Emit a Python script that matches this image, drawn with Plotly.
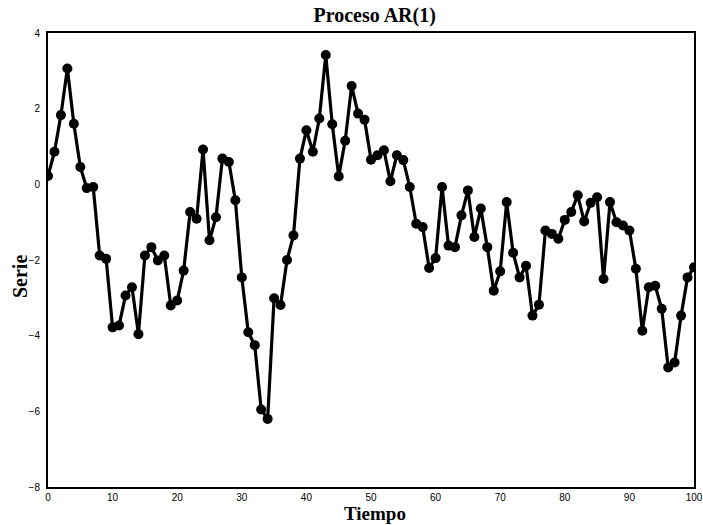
import plotly.graph_objects as go

# Simulated AR(1) series, one value per time step
tiempo = list(range(101))
serie = [
    0.22, 0.86, 1.83, 3.06, 1.60, 0.46, -0.10, -0.07, -1.88, -1.97,
    -3.78, -3.73, -2.94, -2.72, -3.96, -1.88, -1.66, -2.01, -1.88, -3.20,
    -3.07, -2.28, -0.73, -0.91, 0.92, -1.48, -0.87, 0.68, 0.59, -0.42,
    -2.46, -3.91, -4.25, -5.95, -6.20, -3.01, -3.19, -2.00, -1.35, 0.68,
    1.43, 0.86, 1.74, 3.42, 1.59, 0.21, 1.15, 2.60, 1.87, 1.71,
    0.65, 0.77, 0.90, 0.08, 0.77, 0.64, -0.07, -1.04, -1.13, -2.21,
    -1.95, -0.07, -1.62, -1.66, -0.82, -0.16, -1.39, -0.64, -1.66, -2.81,
    -2.30, -0.47, -1.81, -2.46, -2.15, -3.47, -3.18, -1.22, -1.31, -1.44,
    -0.94, -0.73, -0.29, -0.98, -0.49, -0.34, -2.50, -0.47, -1.00, -1.09,
    -1.22, -2.23, -3.87, -2.72, -2.68, -3.29, -4.84, -4.71, -3.47, -2.46,
    -2.19,
]
x_ticks = [0, 10, 20, 30, 40, 50, 60, 70, 80, 90, 100]
y_ticks = [-8, -6, -4, -2, 0, 2, 4]

fig = go.Figure()
fig.add_trace(go.Scatter(
    x=tiempo, y=serie, mode="lines+markers",
    line=dict(color="black", width=3.2),
    marker=dict(color="black", size=10),
    showlegend=False,
))

tick_font = dict(family="Liberation Sans, Arial, sans-serif", size=10, color="black")
label_font = dict(family="Liberation Serif, Times New Roman, serif", size=19, color="black")

fig.update_layout(
    width=703, height=525,
    margin=dict(l=48, r=9, t=33, b=38),
    paper_bgcolor="white", plot_bgcolor="white",
    title=dict(
        text="<b>Proceso AR(1)</b>", x=0.533, xanchor="center", y=0.972, yanchor="middle",
        font=dict(family="Liberation Serif, Times New Roman, serif", size=20, color="black"),
    ),
    xaxis=dict(
        range=[0, 100], tickvals=x_ticks, ticks="", showgrid=False, zeroline=False,
        showline=True, linecolor="black", linewidth=2, mirror=True,
        tickfont=tick_font, ticklabelstandoff=0, ticklabeloverflow="allow",
        automargin=False,
    ),
    yaxis=dict(
        range=[-8, 4], tickvals=y_ticks, ticks="", showgrid=False, zeroline=False,
        showline=True, linecolor="black", linewidth=2, mirror=True,
        tickfont=tick_font, ticklabelstandoff=4, automargin=False,
    ),
    annotations=[
        # axis labels
        dict(text="<b>Tiempo</b>", xref="paper", yref="paper", x=0.506, y=-0.034,
             xanchor="center", yanchor="top", showarrow=False, font=label_font,
             borderpad=0),
        dict(text="<b>Serie</b>", xref="paper", yref="paper", x=-0.043, y=0.463,
             xanchor="center", yanchor="middle", textangle=-90, showarrow=False,
             font=dict(label_font, size=20), borderpad=0),
    ],
)

fig.write_html("out.html")
